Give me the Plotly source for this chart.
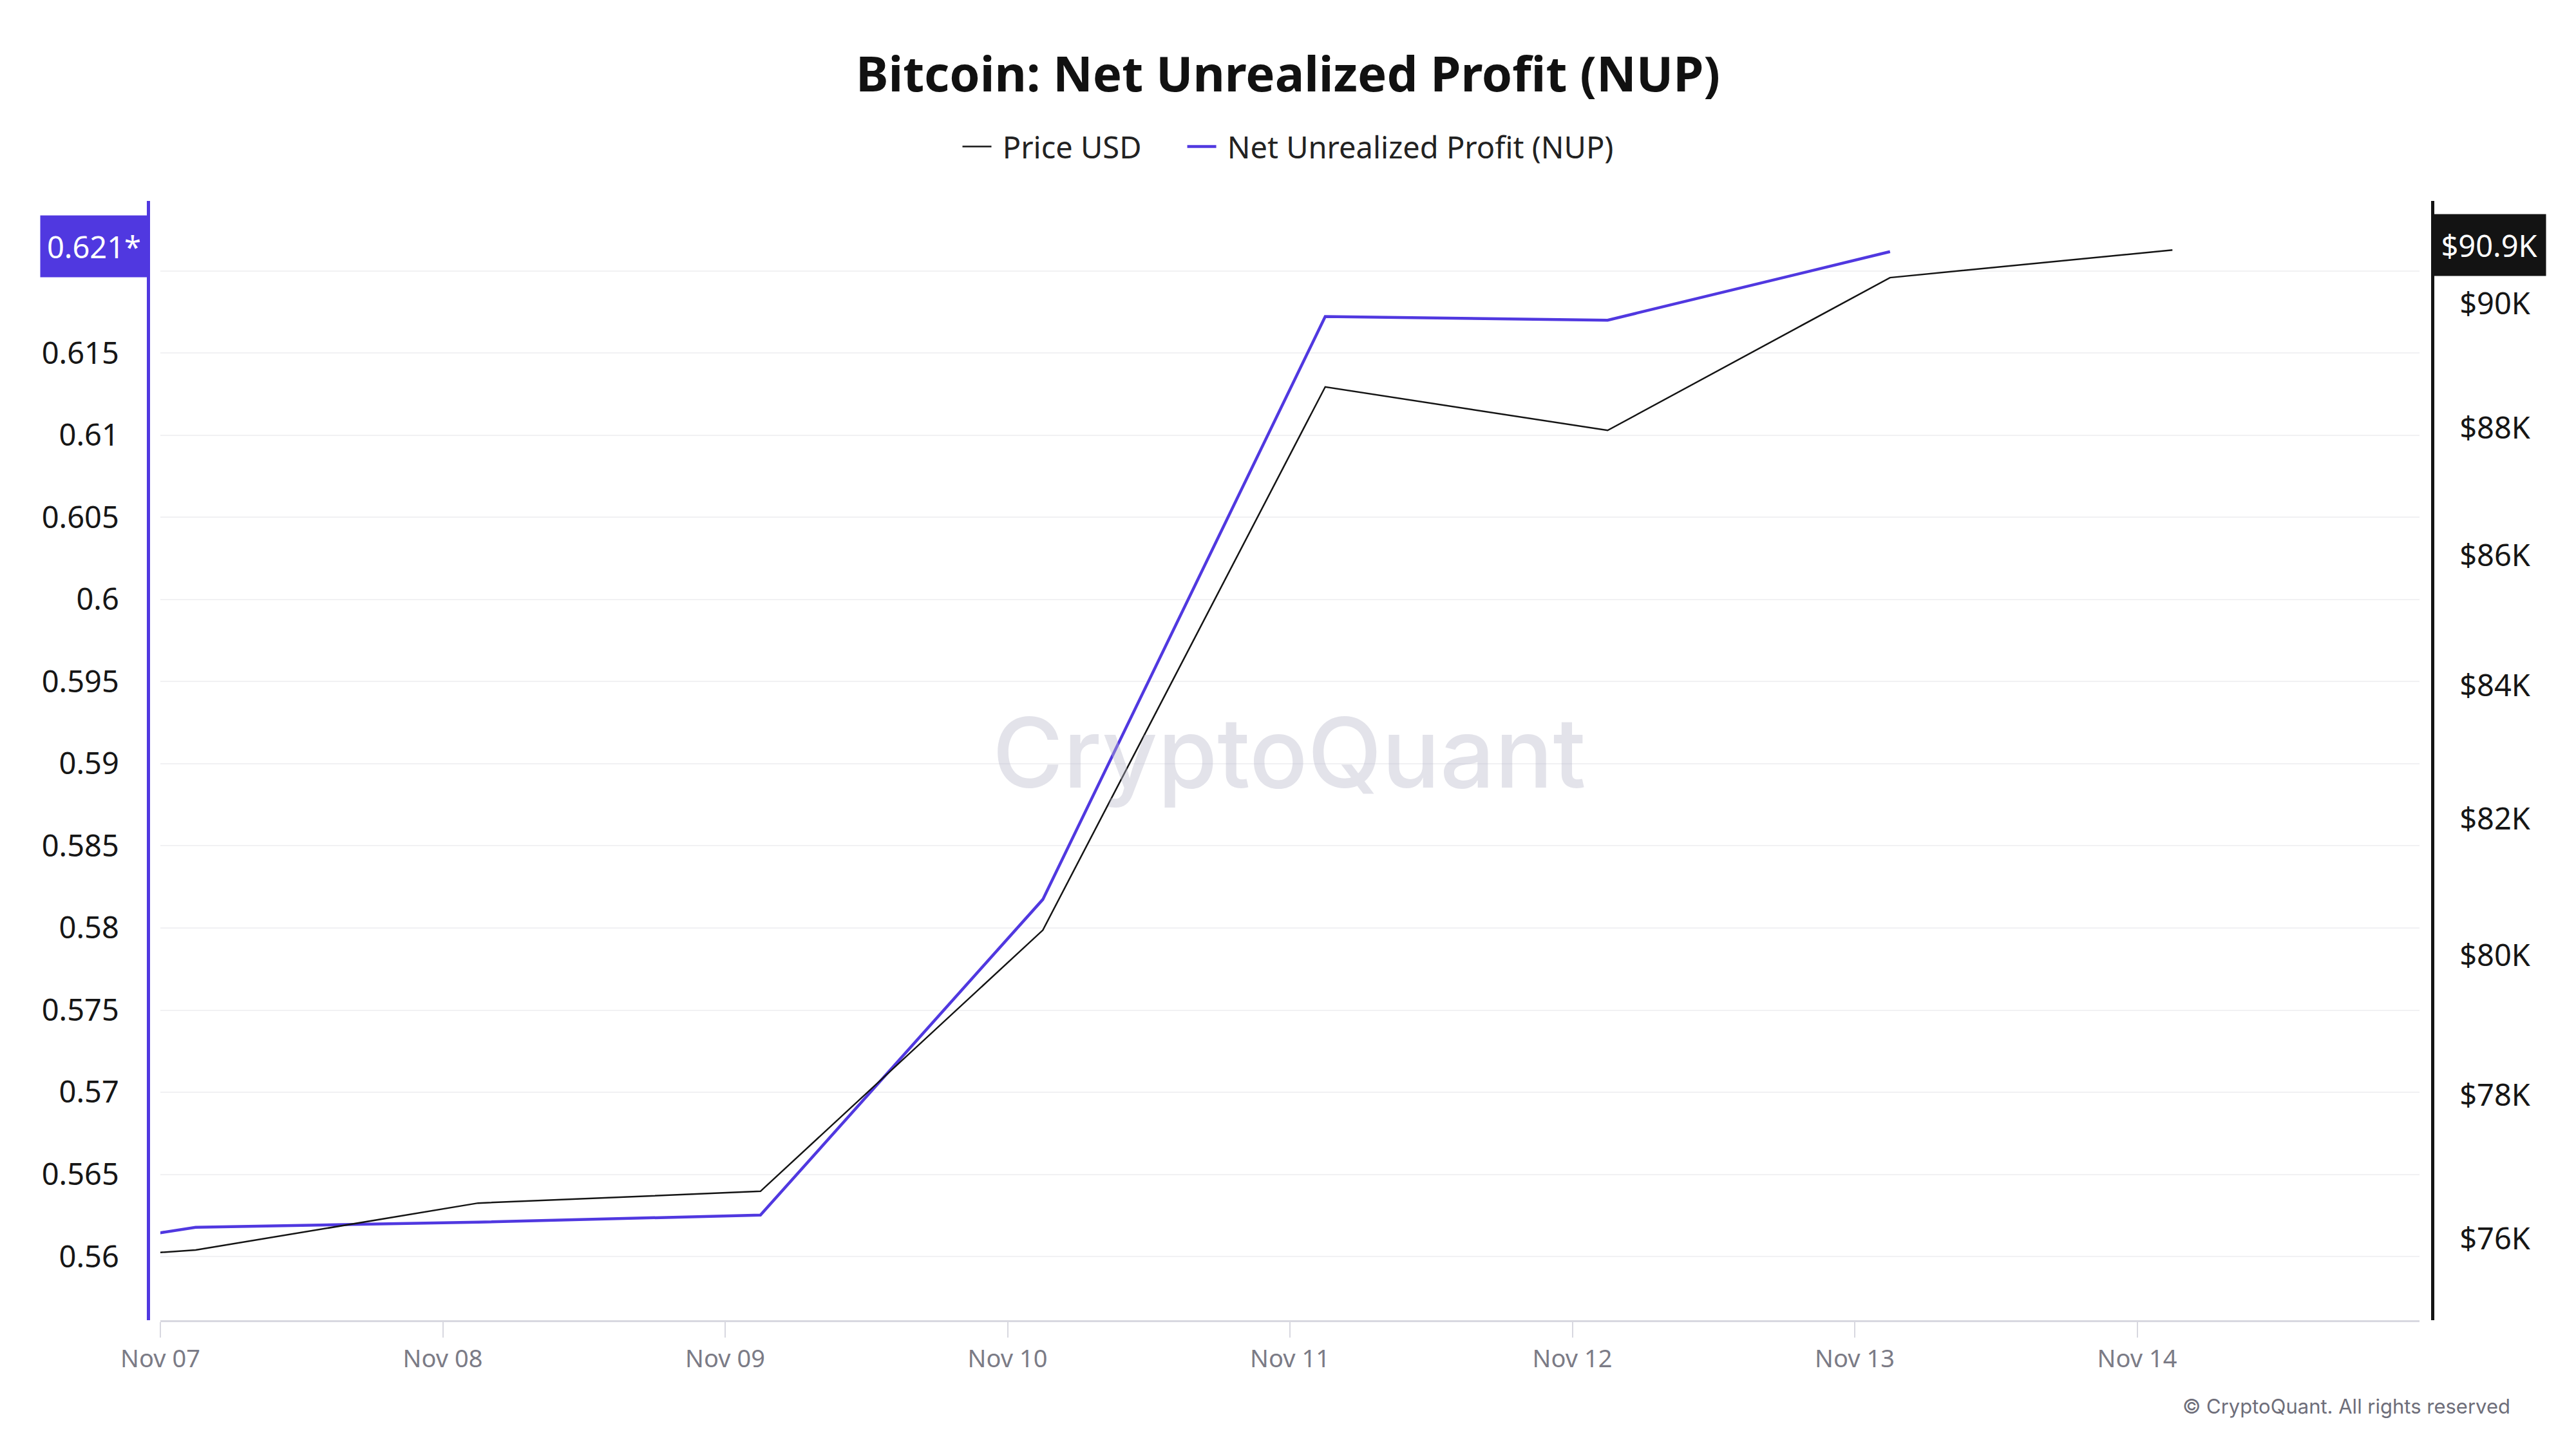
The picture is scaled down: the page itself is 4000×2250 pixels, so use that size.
import math
import plotly.graph_objects as go

# ---- data ----
dates = ["2024-11-06 03:00", "2024-11-07 03:00", "2024-11-08 03:00", "2024-11-09 03:00",
         "2024-11-10 03:00", "2024-11-11 03:00", "2024-11-12 03:00", "2024-11-13 03:00",
         "2024-11-14 03:00"]
price_usd = [75585, 75845, 76492, 76655, 80362, 88658, 87963, 90427, 90880]
nup_dates = dates[:8]
nup_values = [0.55909, 0.56178, 0.56209, 0.56252, 0.58174, 0.61723, 0.61701, 0.62118]

x_tickvals = ["2024-11-07", "2024-11-08", "2024-11-09", "2024-11-10", "2024-11-11",
              "2024-11-12", "2024-11-13", "2024-11-14"]
left_tickvals = [0.56, 0.565, 0.57, 0.575, 0.58, 0.585, 0.59, 0.595, 0.60, 0.605, 0.61, 0.615, 0.62]
left_ticktext = ["0.56", "0.565", "0.57", "0.575", "0.58", "0.585", "0.59", "0.595", "0.6",
                 "0.605", "0.61", "0.615", ""]
right_tickvals = [76000, 78000, 80000, 82000, 84000, 86000, 88000, 90000]
right_ticktext = ["$76K", "$78K", "$80K", "$82K", "$84K", "$86K", "$88K", "$90K"]

NUP_COLOR = "#5038E0"
PRICE_COLOR = "#141414"
FONT = "Noto Sans"

W, H = 4000, 2250
x0px, x1px = 249, 3757
ytop, ybot = 312, 2050

fig = go.Figure()
fig.add_trace(go.Scatter(x=dates, y=price_usd, name=" Price USD     ", mode="lines",
                         line=dict(color=PRICE_COLOR, width=2.5), yaxis="y2"))
fig.add_trace(go.Scatter(x=nup_dates, y=nup_values, name=" Net Unrealized Profit (NUP)",
                         mode="lines", line=dict(color=NUP_COLOR, width=4.5), yaxis="y"))

fig.update_layout(
    width=W, height=H,
    margin=dict(l=0, r=0, t=0, b=0),
    paper_bgcolor="white", plot_bgcolor="white",
    font=dict(family=FONT, color="#161616"),
    title=dict(text="<b>Bitcoin: Net Unrealized Profit (NUP)</b>", x=0.5, xanchor="center",
               y=1 - 115 / H, yanchor="middle", yref="container",
               font=dict(size=76, color="#111111", family=FONT)),
    legend=dict(orientation="h", x=0.5, xanchor="center", y=1 - 228 / H, yanchor="middle",
                font=dict(size=47, color="#222222", family=FONT), itemwidth=45,
                bgcolor="rgba(0,0,0,0)"),
    showlegend=True,
    xaxis=dict(domain=[x0px / W, x1px / W], type="date",
               range=["2024-11-07", "2024-11-15"], tickvals=x_tickvals,
               tickformat="%b %d", showgrid=False, zeroline=False,
               showline=True, linecolor="#D8D8E0", linewidth=3,
               ticks="outside", ticklen=24, tickcolor="#D8D8E0", tickwidth=2,
               tickfont=dict(size=38, color="#7B7B86", family=FONT), automargin=False,
               anchor="y"),
    yaxis=dict(domain=[1 - ybot / H, 1 - ytop / H], range=[0.55612, 0.62427],
               anchor="free", position=230 / W, side="left",
               tickvals=left_tickvals, ticktext=left_ticktext,
               showgrid=True, gridcolor="#F1F1F3", gridwidth=2, zeroline=False,
               showline=True, linecolor=NUP_COLOR, linewidth=4.5, ticks="",
               tickfont=dict(size=47, color="#161616", family=FONT),
               ticklabelstandoff=34, automargin=False),
    yaxis2=dict(domain=[1 - ybot / H, 1 - ytop / H], type="log",
                range=[math.log10(74889), math.log10(91690)],
                anchor="free", position=3777 / W, side="right", overlaying="y",
                tickvals=right_tickvals, ticktext=right_ticktext,
                showgrid=False, zeroline=False,
                showline=True, linecolor=PRICE_COLOR, linewidth=4.5, ticks="",
                tickfont=dict(size=47, color="#161616", family=FONT),
                ticklabelstandoff=30, automargin=False),
)

# watermark
fig.add_annotation(text="CryptoQuant", xref="paper", yref="paper", x=2002 / W, y=1 - 1168 / H,
                   xanchor="center", yanchor="middle", showarrow=False,
                   font=dict(size=150, color="rgba(185,185,202,0.40)", family="Inter", weight=500))

# last value badges
last_nup = nup_values[-1]
last_price = price_usd[-1]
fig.add_annotation(text=f"{last_nup:.3f}*", xref="paper", yref="y", x=230 / W, y=last_nup,
                   xanchor="right", yanchor="middle", yshift=8, showarrow=False,
                   bgcolor=NUP_COLOR, width=166, height=95, borderpad=0, align="center",
                   font=dict(size=47, color="white", family=FONT))
fig.add_annotation(text=f"${last_price / 1000:.1f}K", xref="paper", yref="y2", x=3777 / W,
                   y=math.log10(last_price), xanchor="left", yanchor="middle", yshift=8,
                   showarrow=False, bgcolor="#131313", width=175, height=95, borderpad=0,
                   align="center", font=dict(size=47, color="white", family=FONT))

# copyright
fig.add_annotation(text="© CryptoQuant. All rights reserved", xref="paper", yref="paper",
                   x=3900 / W, y=1 - 2183 / H, xanchor="right", yanchor="middle",
                   showarrow=False, font=dict(size=31, color="#6E6E7A", family="Inter"))

fig.write_html("out.html")
